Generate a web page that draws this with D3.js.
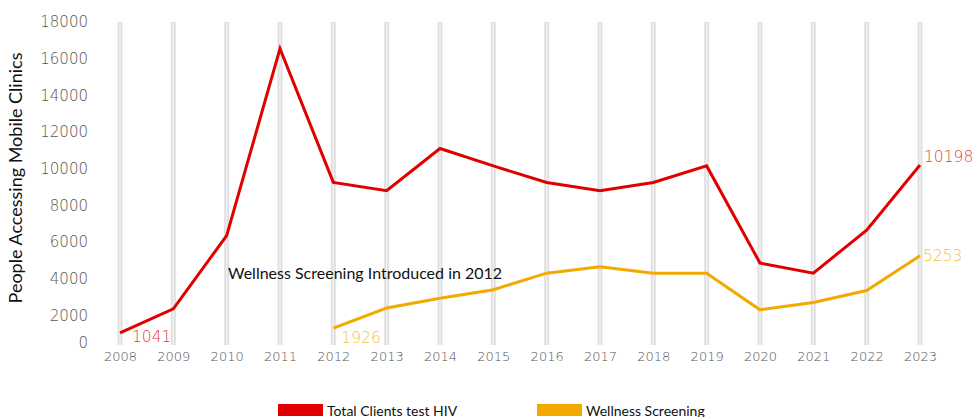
<!DOCTYPE html>
<html>
<head>
<meta charset="utf-8">
<title>People Accessing Mobile Clinics</title>
<script src="https://d3js.org/d3.v7.min.js"></script>
<style>
  body { margin: 0; background: #fff; }
  svg { display: block; }
  .tick text { font-family: "DejaVu Sans", sans-serif; font-weight: 200; fill: #555; }
  .ytitle, .note, .legend text { font-family: Lato, "Open Sans", sans-serif; fill: #111; }
  .vlabel { font-family: "DejaVu Sans", sans-serif; font-weight: 200; }
</style>
</head>
<body>
<svg width="973" height="417"></svg>
<script>
  const years = [2008, 2009, 2010, 2011, 2012, 2013, 2014, 2015,
                 2016, 2017, 2018, 2019, 2020, 2021, 2022, 2023];
  const hivTests = [1041, 2350, 6350, 16550, 9250, 8800, 11100, 10150,
                    9250, 8800, 9250, 10150, 4850, 4300, 6650, 10198];
  // wellness screening started in 2012
  const wellness = [null, null, null, null, 1300, 2400, 2930, 3400,
                    4300, 4650, 4300, 4300, 2300, 2700, 3350, 5253];
  const yTicks = [0, 2000, 4000, 6000, 8000, 10000, 12000, 14000, 16000, 18000];
  const series = [
    {name: "Total Clients test HIV", values: hivTests, color: "#e00000", label: "#e8403f"},
    {name: "Wellness Screening", values: wellness, color: "#f2a900", label: "#f5c03f"}
  ];
  const valueLabels = [
    {s: 0, year: 2008, text: "1041", dx: 12, dy: 4},
    {s: 1, year: 2012, text: "1926", dx: 8, dy: 9},
    {s: 0, year: 2023, text: "10198", dx: 4, dy: -8},
    {s: 1, year: 2023, text: "5253", dx: 3, dy: 0}
  ];

  const svg = d3.select("svg");
  const x = d3.scalePoint().domain(years).range([120, 920]);
  const y = d3.scaleLinear().domain([0, 18000]).range([352, 22]);

  // vertical gray bars
  const bars = svg.append("g");
  bars.selectAll("rect")
    .data(years)
    .enter()
    .append("rect")
    .attr("x", d => x(d) - 2.5)
    .attr("y", y(18000))
    .attr("width", 5)
    .attr("height", 345 - y(18000))
    .attr("fill", "#e0e0e0");
  bars.selectAll("line")
    .data(years)
    .enter()
    .append("line")
    .attr("x1", d => x(d)).attr("x2", d => x(d))
    .attr("y1", y(18000) + 1).attr("y2", 345)
    .attr("stroke", "#efefef")
    .attr("stroke-width", 1.5);

  // y axis
  const yAxis = svg.append("g")
    .attr("transform", "translate(88,0)")
    .call(d3.axisLeft(y).tickValues(yTicks).tickSize(0).tickPadding(0).tickFormat(d3.format("d")));
  yAxis.select(".domain").remove();
  yAxis.selectAll("text")
    .style("font-size", "15px")
    .attr("dy", d => d === 0 ? "-0.3em" : "0.32em");

  // x axis
  const xAxis = svg.append("g")
    .attr("transform", "translate(0,352)")
    .call(d3.axisBottom(x).tickSize(0).tickPadding(0));
  xAxis.select(".domain").remove();
  xAxis.selectAll("text").style("font-size", "13px");

  svg.append("text")
    .attr("class", "ytitle")
    .attr("transform", "translate(22,178) rotate(-90)")
    .attr("text-anchor", "middle")
    .style("font-size", "18px")
    .text("People Accessing Mobile Clinics");

  const line = d3.line()
    .defined(d => d != null)
    .x((d, i) => x(years[i]))
    .y(d => y(d));

  svg.selectAll(".series")
    .data(series)
    .enter()
    .append("path")
    .attr("class", "series")
    .attr("d", d => line(d.values))
    .attr("fill", "none")
    .attr("stroke", d => d.color)
    .attr("stroke-width", 3)
    .attr("stroke-linejoin", "miter");

  svg.selectAll(".vlabel")
    .data(valueLabels)
    .enter()
    .append("text")
    .attr("class", "vlabel")
    .attr("x", d => x(d.year) + d.dx)
    .attr("y", d => y(series[d.s].values[years.indexOf(d.year)]) + d.dy)
    .attr("dy", "0.35em")
    .attr("fill", d => series[d.s].label)
    .style("font-size", "15.5px")
    .text(d => d.text);

  svg.append("text")
    .attr("class", "note")
    .attr("x", 228)
    .attr("y", 279)
    .style("font-size", "16px")
    .text("Wellness Screening Introduced in 2012");

  // legend
  const legend = svg.append("g").attr("class", "legend");
  const lg = legend.selectAll("g")
    .data(series)
    .enter()
    .append("g")
    .attr("transform", (d, i) => "translate(" + (278 + i * 259) + ",404)");
  lg.append("rect")
    .attr("width", 45)
    .attr("height", 12)
    .attr("fill", d => d.color);
  lg.append("text")
    .attr("x", 49)
    .attr("y", 12)
    .style("font-size", "14px")
    .text(d => d.name);
</script>
</body>
</html>
